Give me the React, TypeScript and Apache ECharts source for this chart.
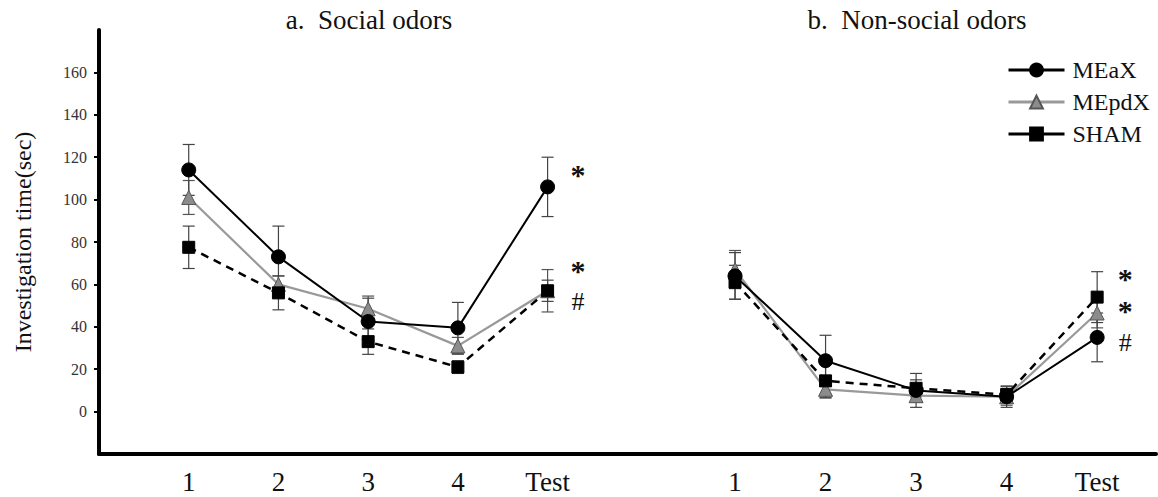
import React, { useEffect, useRef } from "react";
import * as echarts from "echarts";

const xLabels = ["1", "2", "3", "4", "Test"];

// a. Social odors
const socialMEaX = [114, 73, 42.5, 39.5, 106];
const socialMEaXErr = [12, 14.5, 11, 12, 14];
const socialMEpdX = [101, 60, 48.5, 31, 57];
const socialMEpdXErr = [8, 4, 6, 4, 10];
const socialSHAM = [77.5, 56, 33, 21, 57];
const socialSHAMErr = [10, 8, 6, 3, 5];

// b. Non-social odors
const nonsocialMEaX = [64, 24, 10, 7, 35];
const nonsocialMEaXErr = [11, 12, 8, 5, 11.5];
const nonsocialMEpdX = [67, 10.5, 7.5, 7, 46.5];
const nonsocialMEpdXErr = [9, 4, 3, 4, 7];
const nonsocialSHAM = [61, 14.5, 11, 8, 54];
const nonsocialSHAMErr = [8, 8, 4, 4, 12];

// significance marks next to the Test point: [stage, value, mark]
const annotSocial: [number, number, string][] = [
  [5.34, 113.7, "*"],
  [5.34, 68.4, "*"],
  [5.34, 51.9, "#"],
];
const annotNonSocial: [number, number, string][] = [
  [5.31, 64.6, "*"],
  [5.31, 49.3, "*"],
  [5.31, 32.8, "#"],
];

const yTicks = [0, 20, 40, 60, 80, 100, 120, 140, 160];

const FONT = "Liberation Serif";

const styles: Record<string, any> = {
  MEaX: {
    symbol: "circle",
    symbolSize: 14,
    itemStyle: { color: "#000", borderColor: "#000", borderWidth: 1 },
    lineStyle: { color: "#000", width: 2, type: "solid" },
    errColor: "#444",
    z: 4,
  },
  MEpdX: {
    symbol: "triangle",
    symbolSize: 14,
    itemStyle: { color: "#8c8c8c", borderColor: "#555", borderWidth: 1 },
    lineStyle: { color: "#999", width: 2.2, type: "solid" },
    errColor: "#555",
    z: 3,
  },
  SHAM: {
    symbol: "rect",
    symbolSize: 12,
    itemStyle: { color: "#000", borderColor: "#000", borderWidth: 1 },
    lineStyle: { color: "#000", width: 2.5, type: [8, 6] },
    errColor: "#444",
    z: 5,
  },
};

function pts(vals: number[]) {
  return vals.map((v, i) => [i + 1, v]);
}
function errPts(vals: number[], errs: number[]) {
  return vals.map((v, i) => [i + 1, v, errs[i]]);
}

function errorSeries(name: string, vals: number[], errs: number[], gi: number) {
  const color = styles[name].errColor;
  return {
    type: "custom",
    name: name + "-err",
    xAxisIndex: gi,
    yAxisIndex: gi,
    z: 1,
    silent: true,
    encode: { x: 0, y: 1 },
    data: errPts(vals, errs),
    renderItem: (params: any, api: any) => {
      const x = api.value(0);
      const y = api.value(1);
      const e = api.value(2);
      const top = api.coord([x, y + e]);
      const bot = api.coord([x, y - e]);
      const hw = 6;
      const style = { stroke: color, lineWidth: 1.2 };
      return {
        type: "group",
        children: [
          { type: "line", shape: { x1: top[0], y1: top[1], x2: bot[0], y2: bot[1] }, style },
          { type: "line", shape: { x1: top[0] - hw, y1: top[1], x2: top[0] + hw, y2: top[1] }, style },
          { type: "line", shape: { x1: bot[0] - hw, y1: bot[1], x2: bot[0] + hw, y2: bot[1] }, style },
        ],
      };
    },
  };
}

function lineSeries(name: string, vals: number[], gi: number) {
  const s = styles[name];
  return {
    type: "line",
    name,
    xAxisIndex: gi,
    yAxisIndex: gi,
    data: pts(vals),
    symbol: s.symbol,
    symbolSize: s.symbolSize,
    itemStyle: s.itemStyle,
    lineStyle: s.lineStyle,
    z: s.z,
  };
}

function annotSeries(annots: [number, number, string][], gi: number) {
  return {
    type: "custom",
    name: "annot" + gi,
    xAxisIndex: gi,
    yAxisIndex: gi,
    z: 6,
    silent: true,
    encode: { x: 0, y: 1 },
    data: annots.map((a) => [a[0], a[1]]),
    renderItem: (params: any, api: any) => {
      const p = api.coord([api.value(0), api.value(1)]);
      const mark = annots[params.dataIndex][2];
      const isStar = mark === "*";
      return {
        type: "text",
        x: p[0],
        y: p[1] + (isStar ? 3.5 : 0),
        style: {
          text: mark,
          fontFamily: FONT,
          fontWeight: isStar ? "bold" : "normal",
          fontSize: isStar ? 30 : 26,
          fill: "#111",
          textAlign: "center",
          textVerticalAlign: "middle",
        },
      };
    },
  };
}

function xAxisFor(gi: number, max: number) {
  return {
    type: "value",
    gridIndex: gi,
    min: 0,
    max,
    interval: 1,
    axisLine: { show: true, onZero: false, lineStyle: { color: "#000", width: 4 } },
    axisTick: { show: false },
    splitLine: { show: false },
    axisLabel: {
      fontFamily: FONT,
      fontSize: 27,
      color: "#111",
      margin: 14,
      showMaxLabel: false,
      formatter: (v: number) => {
        const i = Math.round(v);
        return Math.abs(v - i) < 1e-6 && i >= 1 && i <= 5 ? xLabels[i - 1] : "";
      },
    },
  };
}

export default function App() {
  const ref = useRef<HTMLDivElement>(null);
  useEffect(() => {
    if (!ref.current) return;
    const chart = echarts.init(ref.current, null, { renderer: "svg" });
    const option: any = {
      animation: false,
      backgroundColor: "#fff",
      grid: [
        { left: 99, top: 30, bottom: 43, width: 545.5 },
        { left: 644.5, top: 30, bottom: 43, right: 2 },
      ],
      xAxis: [xAxisFor(0, 6.08), xAxisFor(1, 5.65)],
      yAxis: [
        {
          type: "value",
          gridIndex: 0,
          min: -20,
          max: 180,
          interval: 20,
          name: "Investigation time(sec)",
          nameLocation: "middle",
          nameGap: 64,
          nameTextStyle: { fontFamily: FONT, fontSize: 24, color: "#111" },
          axisLine: { show: true, lineStyle: { color: "#000", width: 4 } },
          axisTick: {
            show: true,
            inside: false,
            length: 5,
            customValues: yTicks,
            lineStyle: { color: "#000", width: 2 },
          },
          axisLabel: {
            fontFamily: FONT,
            fontSize: 16,
            color: "#333",
            margin: 12,
            customValues: yTicks,
          },
          splitLine: { show: false },
        },
        {
          type: "value",
          gridIndex: 1,
          min: -20,
          max: 180,
          interval: 20,
          show: false,
          splitLine: { show: false },
        },
      ],
      legend: {
        orient: "vertical",
        left: 1002,
        top: 53,
        itemWidth: 56,
        itemHeight: 16,
        itemGap: 8,
        textStyle: { fontFamily: FONT, fontSize: 24, color: "#111", padding: [0, 0, 0, 3] },
        lineStyle: { width: 3 },
        data: [
          { name: "MEaX" },
          { name: "MEpdX" },
          { name: "SHAM", lineStyle: { type: "solid", width: 3 } },
        ],
      },
      graphic: [
        {
          type: "text",
          x: 369,
          y: 20,
          style: {
            text: "a.  Social odors",
            fontFamily: FONT,
            fontSize: 27,
            fill: "#111",
            textAlign: "center",
            textVerticalAlign: "middle",
          },
        },
        {
          type: "text",
          x: 917,
          y: 20,
          style: {
            text: "b.  Non-social odors",
            fontFamily: FONT,
            fontSize: 27,
            fill: "#111",
            textAlign: "center",
            textVerticalAlign: "middle",
          },
        },
      ],
      series: [
        errorSeries("MEpdX", socialMEpdX, socialMEpdXErr, 0),
        errorSeries("MEaX", socialMEaX, socialMEaXErr, 0),
        errorSeries("SHAM", socialSHAM, socialSHAMErr, 0),
        errorSeries("MEpdX", nonsocialMEpdX, nonsocialMEpdXErr, 1),
        errorSeries("MEaX", nonsocialMEaX, nonsocialMEaXErr, 1),
        errorSeries("SHAM", nonsocialSHAM, nonsocialSHAMErr, 1),
        lineSeries("MEaX", socialMEaX, 0),
        lineSeries("MEpdX", socialMEpdX, 0),
        lineSeries("SHAM", socialSHAM, 0),
        lineSeries("MEaX", nonsocialMEaX, 1),
        lineSeries("MEpdX", nonsocialMEpdX, 1),
        lineSeries("SHAM", nonsocialSHAM, 1),
        annotSeries(annotSocial, 0),
        annotSeries(annotNonSocial, 1),
      ],
    };
    chart.setOption(option);
    return () => chart.dispose();
  }, []);
  return (
    <div
      ref={ref}
      style={{ position: "absolute", left: 0, top: 0, width: 1158, height: 497, background: "#fff" }}
    />
  );
}
